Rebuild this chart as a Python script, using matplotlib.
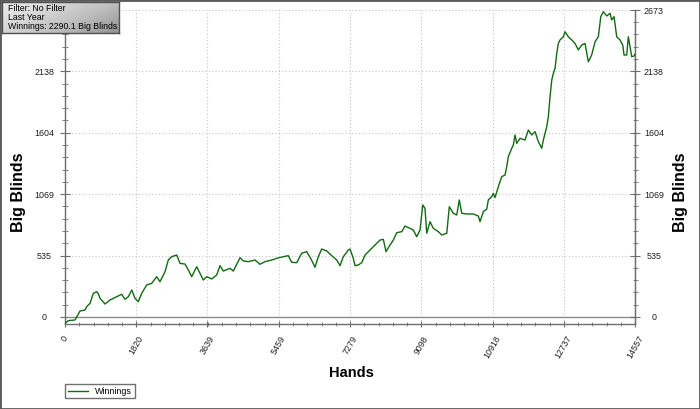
import matplotlib
matplotlib.use("Agg")
import matplotlib.pyplot as plt
import numpy as np
from matplotlib.patches import Rectangle
from matplotlib.ticker import FixedLocator, AutoMinorLocator

plt.rcParams['font.family'] = ['Liberation Sans', 'DejaVu Sans']

# winnings curve (hands played, big blinds won)
hands = [0, 84, 255, 299, 383, 511, 554, 639, 723, 810, 850, 894, 1022, 1149,
         1320, 1448, 1532, 1617, 1704, 1788, 1872, 1959, 2087, 2214, 2342, 2426,
         2554, 2638, 2725, 2853, 2937, 3065, 3149, 3236, 3364, 3448, 3532, 3619,
         3747, 3874, 3959, 4043, 4214, 4298, 4385, 4470, 4554, 4682, 4853, 4980,
         5108, 5279, 5407, 5575, 5703, 5790, 5918, 6045, 6173, 6283, 6385, 6469,
         6556, 6684, 6812, 6939, 7024, 7108, 7236, 7279, 7363, 7407, 7492, 7579,
         7663, 7790, 7918, 8045, 8130, 8198, 8301, 8385, 8472, 8600, 8684, 8811,
         8896, 8982, 9067, 9136, 9194, 9238, 9322, 9406, 9534, 9621, 9749, 9815,
         9917, 10004, 10070, 10132, 10259, 10428, 10556, 10599, 10683, 10770,
         10811, 10898, 10939, 10982, 11067, 11153, 11238, 11281, 11322, 11409,
         11450, 11493, 11536, 11621, 11748, 11833, 11920, 12004, 12088, 12175,
         12216, 12303, 12344, 12387, 12431, 12471, 12515, 12558, 12599, 12642,
         12727, 12770, 12855, 12941, 13025, 13109, 13196, 13281, 13365, 13450,
         13537, 13621, 13683, 13749, 13836, 13920, 13963, 14022, 14090, 14175,
         14244, 14277, 14345, 14387, 14430, 14473, 14532, 14557]
winnings = [-55, -32, -26, 0, 52, 61, 90, 119, 206, 220, 203, 163, 113, 148,
            177, 198, 154, 177, 235, 163, 133, 206, 279, 293, 351, 307,
            394, 496, 525, 540, 467, 461, 409, 351, 438, 380, 322, 351,
            331, 366, 447, 400, 424, 400, 459, 516, 488, 482, 496, 459,
            482, 496, 511, 525, 534, 476, 473, 555, 569, 505, 433, 525,
            592, 575, 534, 496, 447, 525, 583, 592, 511, 447, 453, 473,
            540, 583, 627, 670, 676, 569, 627, 670, 734, 743, 792, 772,
            757, 699, 757, 975, 946, 729, 830, 772, 743, 714, 729, 960,
            903, 888, 1019, 903, 897, 897, 879, 830, 917, 938,
            1019, 1048, 1077, 1040, 1135, 1222, 1236, 1309, 1396, 1469,
            1498, 1585, 1512, 1556, 1541, 1628, 1585, 1614, 1527, 1469,
            1541, 1657, 1744, 1918, 2063, 2121, 2165, 2295, 2382, 2412,
            2440, 2484, 2440, 2412, 2382, 2325, 2368, 2382, 2222, 2281,
            2397, 2440, 2615, 2658, 2621, 2644, 2586, 2615, 2440, 2412,
            2368, 2281, 2281, 2440, 2354, 2267, 2272, 2290.1]

x_ticks = [0, 1820, 3639, 5459, 7279, 9098, 10918, 12737, 14557]
y_ticks = [0, 535, 1069, 1604, 2138, 2673]
info_lines = ["Filter: No Filter", "Last Year", "Winnings: 2290.1 Big Blinds"]

W, H = 700, 409
fig = plt.figure(figsize=(7, 4.09), dpi=100)
ax = fig.add_axes([65 / W, 1 - 324 / H, 570 / W, 314 / H])

line_col = '#126a12'
axis_col = '#6e6e6e'
txt_col = '#1e1e1e'

ax.plot(hands, winnings, color=line_col, lw=1.0, label='Winnings', zorder=3)
ax.axhline(0, color='#8c8c8c', lw=1.0, zorder=2)

ax.set_xlim(0, 14557)
ax.set_ylim(-61, 2673)
ax.xaxis.set_major_locator(FixedLocator(x_ticks))
ax.yaxis.set_major_locator(FixedLocator(y_ticks))
ax.xaxis.set_minor_locator(AutoMinorLocator(5))
ax.yaxis.set_minor_locator(AutoMinorLocator(5))
ax.grid(True, which='major', color='#c4c4c4', lw=0.8, linestyle=(0, (1, 2)))

ax.spines['top'].set_visible(False)
for s in ['left', 'right', 'bottom']:
    ax.spines[s].set_color(axis_col)
    ax.spines[s].set_linewidth(1.0)

ax.tick_params(axis='x', which='major', direction='inout', length=4.3, color=axis_col,
               labelsize=6.4, labelcolor=txt_col, pad=5)
ax.tick_params(axis='x', which='minor', direction='inout', length=2.9, color=axis_col)
ax.tick_params(axis='y', which='major', direction='inout', length=7.2, color=axis_col,
               labelsize=6.4, labelcolor=txt_col, pad=11.5, right=False)
ax.tick_params(axis='y', which='minor', direction='inout', length=4.3, color=axis_col,
               right=False)
ax.set_xticklabels([str(v) for v in x_ticks])
for lab in ax.get_xticklabels():
    lab.set_rotation(60)
    lab.set_ha('center')
    lab.set_va('top')
# the top left label sits under the info box in the original
ax.set_yticklabels([str(v) for v in y_ticks[:-1]] + [''])
for lab in ax.get_yticklabels():
    lab.set_ha('center')

# right hand axis mirrors the left one
ax2 = ax.twinx()
ax2.set_ylim(ax.get_ylim())
ax2.yaxis.set_major_locator(FixedLocator(y_ticks))
ax2.yaxis.set_minor_locator(AutoMinorLocator(5))
for s in ['top', 'left', 'bottom']:
    ax2.spines[s].set_visible(False)
ax2.spines['right'].set_color(axis_col)
ax2.tick_params(axis='y', which='major', direction='inout', length=7.2, color=axis_col,
                labelsize=6.4, labelcolor=txt_col, pad=10)
ax2.tick_params(axis='y', which='minor', direction='inout', length=3.6, color=axis_col)
for lab in ax2.get_yticklabels():
    lab.set_ha('center')

fig.text(19 / W, 1 - 192 / H, 'Big Blinds', rotation=90, ha='center', va='center',
         fontsize=11.5, fontweight='bold', color='black')
fig.text(681 / W, 1 - 192 / H, 'Big Blinds', rotation=90, ha='center', va='center',
         fontsize=11.5, fontweight='bold', color='black')
fig.text(351 / W, 1 - 373 / H, 'Hands', ha='center', va='center',
         fontsize=10.5, fontweight='bold', color='black')

fig.legend(loc='upper left', bbox_to_anchor=(65 / W, 1 - 384 / H), fontsize=6.4,
           frameon=True, fancybox=False, edgecolor='#707070', framealpha=1,
           handlelength=2.3, borderpad=0.3, handletextpad=0.8, borderaxespad=0)

# info box with grey gradient
box = fig.add_axes([2 / W, 1 - 33 / H, 117 / W, 31 / H])
gx, gy = np.meshgrid(np.linspace(0, 1, 200), np.linspace(0, 1, 40))
grad = 0.45 * gx + 0.25 * gy
box.imshow(grad, cmap='Greys', vmin=-0.25, vmax=1.6, aspect='auto',
           extent=[0, 1, 0, 1], origin='upper')
box.set_xlim(0, 1)
box.set_ylim(0, 1)
box.set_xticks([])
box.set_yticks([])
for s in box.spines.values():
    s.set_color('#505050')
    s.set_linewidth(1.0)
for i, t in enumerate(info_lines):
    box.text(0.05, 0.80 - i * 0.30, t, ha='left', va='center', fontsize=6.3,
             color='black', transform=box.transAxes)

fig.patches.append(Rectangle((0, 0), 1, 1, transform=fig.transFigure, fill=False,
                             edgecolor='#5a5a5a', lw=2.0))

fig.savefig('out.png', dpi=100)
